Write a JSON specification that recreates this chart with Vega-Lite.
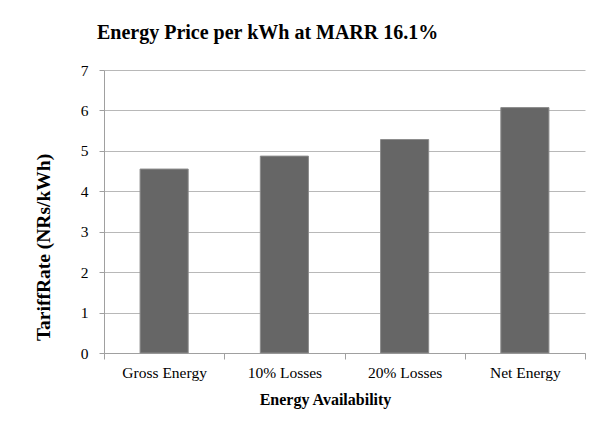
{
  "$schema": "https://vega.github.io/schema/vega-lite/v6.json",
  "width": 481,
  "height": 283,
  "autosize": {"type": "none"},
  "padding": {"left": 104, "top": 70, "right": 6, "bottom": 79},
  "background": "white",
  "config": {"view": {"stroke": null}, "font": "Liberation Serif"},
  "title": {
    "text": "Energy Price per kWh at MARR 16.1%",
    "anchor": "start",
    "frame": "group",
    "dx": -7,
    "offset": 20,
    "font": "Liberation Serif",
    "fontSize": 20,
    "fontWeight": "bold",
    "color": "black"
  },
  "data": {
    "values": [
      {"category": "Gross Energy", "rate": 4.55},
      {"category": "10% Losses", "rate": 4.87},
      {"category": "20% Losses", "rate": 5.28},
      {"category": "Net Energy", "rate": 6.07}
    ]
  },
  "mark": {"type": "bar", "width": {"band": 0.4}, "color": "#666666", "stroke": "#8c8c8c", "strokeWidth": 1},
  "encoding": {
    "x": {
      "field": "category",
      "type": "nominal",
      "sort": null,
      "scale": {"paddingInner": 0, "paddingOuter": 0},
      "axis": {
        "title": "Energy Availability",
        "titleFont": "Liberation Serif",
        "titleFontSize": 16,
        "titleFontWeight": "bold",
        "titleColor": "black",
        "titleX": 221,
        "titleY": 38,
        "titleBaseline": "top",
        "titleAnchor": null,
        "labelAngle": 0,
        "labelFont": "Liberation Serif",
        "labelFontSize": 15.5,
        "labelColor": "black",
        "labelPadding": 6,
        "tickBand": "extent",
        "tickSize": 6,
        "tickColor": "#a0a0a0",
        "domainColor": "#a0a0a0",
        "grid": false
      }
    },
    "y": {
      "field": "rate",
      "type": "quantitative",
      "scale": {"domain": [0, 7], "nice": false},
      "axis": {
        "title": "TariffRate (NRs/kWh)",
        "titleFont": "Liberation Serif",
        "titleFontSize": 19.5,
        "titleFontWeight": "bold",
        "titleColor": "black",
        "titleAngle": -90,
        "titleX": -61,
        "titleY": 177,
        "titleAlign": "center",
        "titleBaseline": "middle",
        "values": [0, 1, 2, 3, 4, 5, 6, 7],
        "labelFont": "Liberation Serif",
        "labelFontSize": 15.5,
        "labelColor": "black",
        "labelPadding": 11,
        "tickSize": 5,
        "tickColor": "#a0a0a0",
        "domainColor": "#a0a0a0",
        "grid": true,
        "gridColor": "#b8b8b8"
      }
    }
  }
}
